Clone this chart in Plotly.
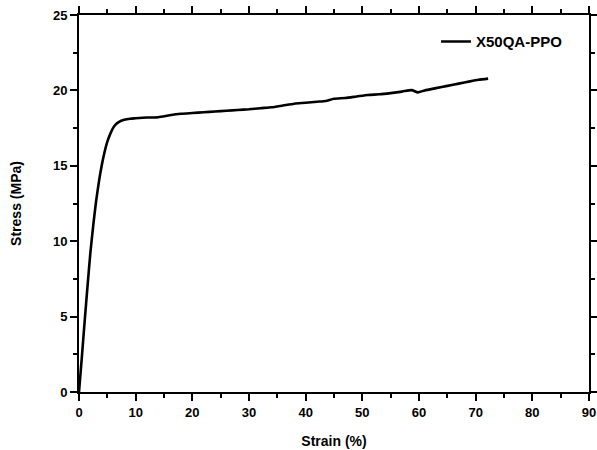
import plotly.graph_objects as go

series_name = "X50QA-PPO"
strain = [0, 0.5, 1.0, 1.5, 2.0, 2.5, 3.0, 3.5, 4.0, 4.5, 5.0, 5.5, 6.0, 6.5, 7.0, 8.0, 9.0,
          10, 12, 14, 16, 18, 20, 22, 24, 26, 28, 30, 32, 34, 36, 38, 40, 42, 43.5, 45,
          47, 49, 51, 53, 55, 57, 58.7, 59.8, 61, 63, 65, 67, 69, 70.5, 72.2]
stress = [0, 2.3, 4.7, 7.0, 9.2, 11.0, 12.6, 13.9, 15.0, 15.9, 16.6, 17.1, 17.5, 17.75, 17.9, 18.05, 18.12,
          18.15, 18.2, 18.22, 18.35, 18.45, 18.5, 18.55, 18.6, 18.65, 18.7, 18.75, 18.82, 18.88, 19.0, 19.12, 19.18, 19.25, 19.3, 19.45,
          19.5, 19.6, 19.7, 19.74, 19.82, 19.92, 20.02, 19.87, 20.0, 20.15, 20.3, 20.45, 20.6, 20.7, 20.78]

x_ticks = [0, 10, 20, 30, 40, 50, 60, 70, 80, 90]
y_ticks = [0, 5, 10, 15, 20, 25]
x_minor_step = 5
y_minor_step = 2.5

FONT = "Liberation Sans"

fig = go.Figure()
fig.add_trace(go.Scatter(x=strain, y=stress, mode="lines", name="<b>" + series_name + "</b>",
                         line=dict(color="black", width=2.6, shape="spline", smoothing=0.6)))

common = dict(showgrid=False, zeroline=False, showline=True, linecolor="black", linewidth=2,
              tickcolor="black", tickwidth=2, automargin=False, mirror="allticks")

fig.update_layout(
    width=597, height=450,
    margin=dict(l=79, r=8, t=15, b=58),
    paper_bgcolor="white", plot_bgcolor="white",
    font=dict(family=FONT, color="black"),
    showlegend=True,
    legend=dict(x=0.70, y=0.973, xanchor="left", yanchor="top", bgcolor="rgba(0,0,0,0)",
                font=dict(family=FONT, size=15, color="black"), tracegroupgap=0),
    xaxis=dict(range=[0, 90], tickvals=x_ticks, ticktext=["<b>%d</b>" % v for v in x_ticks],
               ticks="outside", ticklen=7,
               minor=dict(ticks="outside", dtick=x_minor_step, ticklen=4, tickwidth=2, tickcolor="black"),
               tickfont=dict(family=FONT, size=13, color="black"),
               title=dict(text="<b>Strain (%)</b>", font=dict(family=FONT, size=14, color="black"), standoff=18),
               **common),
    yaxis=dict(range=[0, 25], tickvals=y_ticks, ticktext=["<b>%d</b>" % v for v in y_ticks],
               ticks="outside", ticklen=7,
               minor=dict(ticks="outside", dtick=y_minor_step, ticklen=4, tickwidth=2, tickcolor="black"),
               tickfont=dict(family=FONT, size=13, color="black"),
               title=dict(text="<b>Stress (MPa)</b>", font=dict(family=FONT, size=14, color="black"), standoff=28),
               **common),
)

fig.write_html("out.html", config={"displayModeBar": False},
               post_script="document.body.style.margin='0';")
